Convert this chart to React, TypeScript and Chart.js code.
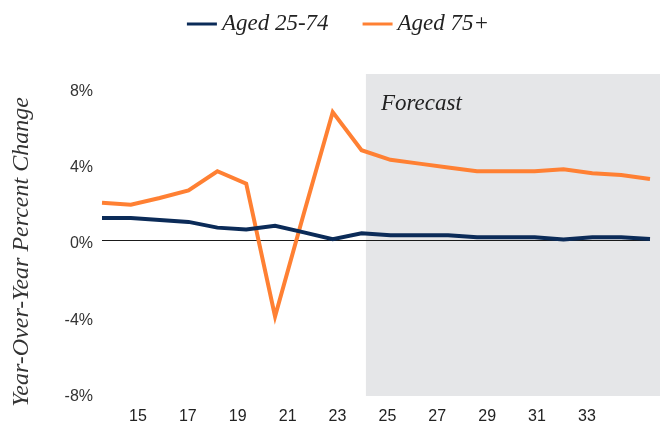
import React, { useEffect, useRef } from "react";
import { Chart, registerables } from "chart.js";

Chart.register(...registerables);

// ---- data ----
const YEARS = [
  2014, 2015, 2016, 2017, 2018, 2019, 2020, 2021, 2022, 2023,
  2024, 2025, 2026, 2027, 2028, 2029, 2030, 2031, 2032, 2033,
];
const AGED_25_74 = [
  1.2, 1.2, 1.1, 1.0, 0.7, 0.6, 0.8, 0.45, 0.1, 0.4,
  0.3, 0.3, 0.3, 0.2, 0.2, 0.2, 0.08, 0.2, 0.2, 0.1,
];
const AGED_75_PLUS = [
  2.0, 1.9, 2.25, 2.65, 3.65, 3.0, -3.95, 1.45, 6.75, 4.75,
  4.25, 4.05, 3.85, 3.65, 3.65, 3.65, 3.75, 3.55, 3.45, 3.25,
];
const SERIES_NAMES = ["Aged 25-74", "Aged 75+"];
const X_TICK_LABELS = [15, 17, 19, 21, 23, 25, 27, 29, 31, 33];
const Y_TICKS = [-8, -4, 0, 4, 8];
const FORECAST_START = 9.15; // position on the data axis where the forecast band starts
const FORECAST_LABEL = "Forecast";
const Y_TITLE = "Year-Over-Year Percent Change";

const NAVY = "#0b2b58";
const ORANGE = "#ff8033";
const SHADE = "#e5e6e8";
const SERIF = '"Liberation Serif", "DejaVu Serif", serif';
const SANS = '"Liberation Sans", Arial, sans-serif';

export default function App() {
  const ref = useRef<HTMLCanvasElement | null>(null);

  useEffect(() => {
    document.body.style.margin = "0";
    const canvas = ref.current;
    if (!canvas) return;

    const shadePlugin = {
      id: "forecastShade",
      beforeDraw(chart: any) {
        const { ctx, chartArea } = chart;
        const xs = chart.scales.x;
        const x0 = xs.getPixelForValue(FORECAST_START);
        ctx.save();
        ctx.fillStyle = SHADE;
        ctx.fillRect(x0, chartArea.top, chart.width - x0, chartArea.bottom - chartArea.top);
        ctx.restore();
      },
    };

    const textPlugin = {
      id: "texts",
      afterDraw(chart: any) {
        const { ctx, chartArea } = chart;
        const xs = chart.scales.x;
        ctx.save();
        // Forecast label
        ctx.font = `italic 23px ${SERIF}`;
        ctx.fillStyle = "#222";
        ctx.textAlign = "left";
        ctx.textBaseline = "alphabetic";
        ctx.fillText(FORECAST_LABEL, xs.getPixelForValue(FORECAST_START) + 15, chartArea.top + 36);

        // Y title
        ctx.save();
        ctx.translate(28, 252);
        ctx.rotate(-Math.PI / 2);
        ctx.textAlign = "center";
        ctx.fillStyle = "#333";
        ctx.font = `italic 24px ${SERIF}`;
        ctx.fillText(Y_TITLE, 0, 0);
        ctx.restore();

        // Legend
        ctx.font = `italic 23px ${SERIF}`;
        const ds = chart.data.datasets;
        const lineW = 30;
        const gap = 5;
        const between = 34;
        const widths = ds.map((d: any) => ctx.measureText(d.label).width);
        let total = 0;
        widths.forEach((w: number, i: number) => {
          total += lineW + gap + w + (i > 0 ? between : 0);
        });
        let x = chart.width / 2 + 8 - total / 2;
        ds.forEach((d: any, i: number) => {
          ctx.strokeStyle = d.borderColor;
          ctx.lineWidth = 3;
          ctx.beginPath();
          ctx.moveTo(x, 24);
          ctx.lineTo(x + lineW, 24);
          ctx.stroke();
          ctx.fillStyle = "#222";
          ctx.textAlign = "left";
          ctx.fillText(d.label, x + lineW + gap, 30);
          x += lineW + gap + widths[i] + between;
        });
        ctx.restore();
      },
    };

    const chart = new Chart(canvas, {
      type: "line",
      data: {
        labels: YEARS,
        datasets: [
          {
            label: SERIES_NAMES[0],
            data: AGED_25_74,
            borderColor: NAVY,
            backgroundColor: NAVY,
            borderWidth: 4,
            pointRadius: 0,
            tension: 0,
            xAxisID: "x",
            yAxisID: "y",
          },
          {
            label: SERIES_NAMES[1],
            data: AGED_75_PLUS,
            borderColor: ORANGE,
            backgroundColor: ORANGE,
            borderWidth: 4,
            pointRadius: 0,
            tension: 0,
            xAxisID: "x",
            yAxisID: "y",
          },
        ],
      },
      options: {
        responsive: false,
        animation: false,
        devicePixelRatio: 1,
        layout: { padding: { top: 74, right: 10, left: 0, bottom: 0 } },
        plugins: {
          legend: { display: false },
          tooltip: { enabled: false },
        },
        scales: {
          x: {
            type: "category",
            display: false,
          },
          x2: {
            type: "linear",
            position: "bottom",
            min: 13.557,
            max: 35.53,
            bounds: "data",
            afterBuildTicks: (s: any) => {
              s.ticks = X_TICK_LABELS.map((v) => ({ value: v }));
            },
            afterFit: (s: any) => {
              s.height = 26;
            },
            grid: { display: false, drawTicks: false },
            border: { display: false },
            ticks: {
              autoSkip: false,
              maxRotation: 0,
              padding: 11,
              color: "#222",
              font: { family: SANS, size: 16 },
              callback: (v: any) => String(v),
            },
          },
          y: {
            type: "linear",
            min: -8.115,
            max: 8.743,
            bounds: "data",
            afterBuildTicks: (s: any) => {
              s.ticks = Y_TICKS.map((v) => ({ value: v }));
            },
            afterFit: (s: any) => {
              s.width = 102;
            },
            grid: {
              drawTicks: false,
              lineWidth: 1,
              color: (c: any) => (c.tick && c.tick.value === 0 ? "#1a1a1a" : "rgba(0,0,0,0)"),
            },
            border: { display: false },
            ticks: {
              padding: 9,
              labelOffset: 3,
              color: "#333",
              font: { family: SANS, size: 16 },
              callback: (v: any) => `${v}%`,
            },
          },
        },
      },
      plugins: [shadePlugin, textPlugin],
    });

    return () => chart.destroy();
  }, []);

  return (
    <div style={{ width: 660, height: 422 }}>
      <canvas ref={ref} width={660} height={422} style={{ display: "block" }} />
    </div>
  );
}
